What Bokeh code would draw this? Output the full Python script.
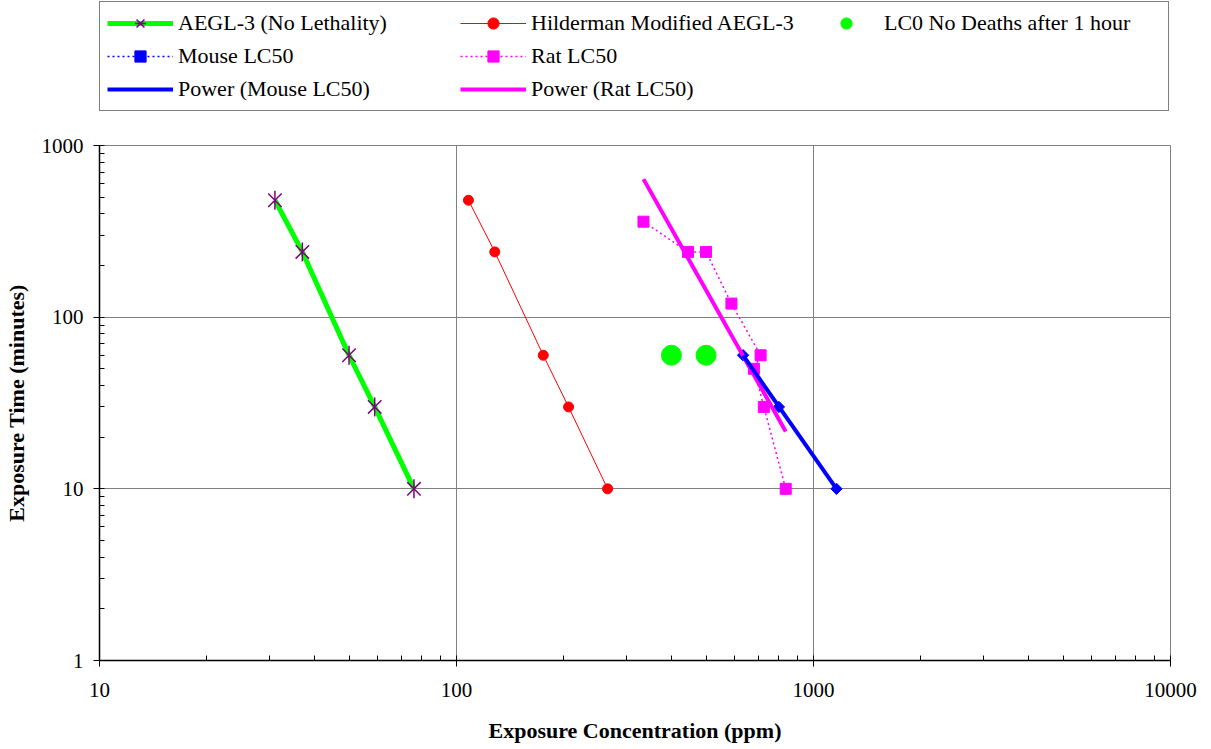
import numpy as np
from bokeh.plotting import figure
from bokeh.layouts import column
from bokeh.models import (Range1d, FixedTicker, CustomJSTickFormatter, Legend, LegendItem,
                          ColumnDataSource)
from bokeh.embed import file_html
from bokeh.resources import INLINE

# Exposure concentration (ppm) vs. exposure time (minutes)
aegl_conc = [31, 37, 50, 59, 76]
aegl_time = [480, 240, 60, 30, 10]

hild_conc = [108, 128, 175, 206, 265]
hild_time = [480, 240, 60, 30, 10]

lc0_conc = [400, 500]
lc0_time = [60, 60]

mouse_conc = [635, 800, 1160]
mouse_time = [60, 30, 10]

rat_conc = [334, 445, 500, 589, 711, 681, 726, 836]
rat_time = [360, 240, 240, 120, 60, 50, 30, 10]

x_ticks = [10, 100, 1000, 10000]
y_ticks = [1, 10, 100, 1000]

FONT = "Liberation Serif"

# Glyph styles, shared by the chart and its legend keys
STYLE = {
    "aegl_line": dict(line_color="#00FF00", line_width=5),
    "aegl_x": dict(marker="x", size=19, line_color="#800080", line_width=1.5),
    "aegl_bar": dict(marker="dash", angle=np.pi / 2, size=19, line_color="#800080",
                     line_width=1.5),
    "hild_line": dict(line_color="#FF0000", line_width=1),
    "hild_pts": dict(marker="circle", size=10, fill_color="#FF0000", line_color="#FF0000"),
    "lc0_pts": dict(marker="circle", size=20, fill_color="#00FF00", line_color="#00FF00"),
    "mouse_line": dict(line_color="#0000FF", line_width=1.5, line_dash="2 3"),
    "mouse_pts": dict(marker="square", angle=np.pi / 4, size=8, fill_color="#0000FF",
                      line_color="#0000FF"),
    "rat_line": dict(line_color="#FF00FF", line_width=1.5, line_dash="2 3"),
    "rat_pts": dict(marker="square", size=11, fill_color="#FF00FF", line_color="#FF00FF"),
    "pm_line": dict(line_color="#0000FF", line_width=4),
    "pr_line": dict(line_color="#FF00FF", line_width=4),
}


def power_fit(conc, time):
    """Least-squares power trend line y = a * x^b, spanning the data's x range."""
    b, a = np.polyfit(np.log10(conc), np.log10(time), 1)
    xs = np.array([min(conc), max(conc)], dtype=float)
    return xs, 10 ** (a + b * np.log10(xs))


def minor_ticks(decades):
    return [d * k for d in decades for k in range(2, 10)]


# ---------------------------------------------------------------- main chart
p = figure(
    width=1211, height=618,
    x_axis_type="log", y_axis_type="log",
    x_range=Range1d(10, 10000), y_range=Range1d(1, 1000),
    output_backend="svg", toolbar_location=None,
    min_border_left=99, min_border_right=41,
    min_border_top=14, min_border_bottom=89,
    x_axis_label="Exposure Concentration (ppm)",
    y_axis_label="Exposure Time (minutes)",
)
p.background_fill_color = "white"
p.border_fill_color = "white"
p.outline_line_color = "#808080"
p.outline_line_width = 1

p.xaxis.ticker = FixedTicker(ticks=x_ticks, minor_ticks=minor_ticks(x_ticks[:-1]))
p.yaxis.ticker = FixedTicker(ticks=y_ticks, minor_ticks=minor_ticks(y_ticks[:-1]))

for ax in (p.xaxis, p.yaxis):
    ax.formatter = CustomJSTickFormatter(code="return tick.toFixed(0);")
    ax.major_label_text_font = FONT
    ax.major_label_text_font_size = "21px"
    ax.major_label_text_color = "black"
    ax.axis_label_text_font = FONT
    ax.axis_label_text_font_style = "bold"
    ax.axis_label_text_font_size = "22px"
    ax.axis_label_text_color = "black"
    ax.axis_line_color = "black"
    ax.axis_line_width = 1.5
    ax.major_tick_line_color = "black"
    ax.minor_tick_line_color = "black"
    ax.major_tick_in = 5
    ax.major_tick_out = 6
    ax.minor_tick_in = 5
    ax.minor_tick_out = 0

p.xaxis.major_label_standoff = 16
p.xaxis.axis_label_standoff = 18
p.yaxis.major_label_standoff = 10
p.yaxis.axis_label_standoff = 10

p.grid.grid_line_color = "#808080"
p.grid.grid_line_width = 1

# AEGL-3: thick green line with purple star markers
p.line(aegl_conc, aegl_time, **STYLE["aegl_line"])
p.scatter(aegl_conc, aegl_time, **STYLE["aegl_x"])
p.scatter(aegl_conc, aegl_time, **STYLE["aegl_bar"])

# Hilderman modified AEGL-3
p.line(hild_conc, hild_time, **STYLE["hild_line"])
p.scatter(hild_conc, hild_time, **STYLE["hild_pts"])

# LC0 (no deaths after 1 hour)
p.scatter(lc0_conc, lc0_time, **STYLE["lc0_pts"])

# Mouse LC50
p.line(mouse_conc, mouse_time, **STYLE["mouse_line"])
p.scatter(mouse_conc, mouse_time, **STYLE["mouse_pts"])

# Rat LC50
p.line(rat_conc, rat_time, **STYLE["rat_line"])
p.scatter(rat_conc, rat_time, **STYLE["rat_pts"])

# Power trend lines
rx, ry = power_fit(rat_conc, rat_time)
p.line(rx, ry, **STYLE["pr_line"])
mx, my = power_fit(mouse_conc, mouse_time)
p.line(mx, my, **STYLE["pm_line"])

# ---------------------------------------------------------------- legend strip
lf = figure(
    width=1211, height=131,
    x_range=Range1d(0, 1), y_range=Range1d(0, 1),
    output_backend="svg", toolbar_location=None,
    x_axis_location=None, y_axis_location=None,
    min_border=0,
)
lf.grid.visible = False
lf.outline_line_color = None
lf.background_fill_color = "white"
lf.border_fill_color = "white"

# key glyphs sit outside the strip's visible range; only their legend samples show
offscreen = ColumnDataSource(data=dict(x=[-5, -4], y=[-5, -4]))


def key(name):
    st = STYLE[name]
    if "marker" in st:
        return lf.scatter("x", "y", source=offscreen, **st)
    return lf.line("x", "y", source=offscreen, **st)


legend = Legend(
    items=[
        LegendItem(label="AEGL-3 (No Lethality)",
                   renderers=[key("aegl_line"), key("aegl_x"), key("aegl_bar")]),
        LegendItem(label="Mouse LC50", renderers=[key("mouse_line"), key("mouse_pts")]),
        LegendItem(label="Power (Mouse LC50)", renderers=[key("pm_line")]),
        LegendItem(label="Hilderman Modified AEGL-3",
                   renderers=[key("hild_line"), key("hild_pts")]),
        LegendItem(label="Rat LC50", renderers=[key("rat_line"), key("rat_pts")]),
        LegendItem(label="Power (Rat LC50)", renderers=[key("pr_line")]),
        LegendItem(label="LC0 No Deaths after 1 hour", renderers=[key("lc0_pts")]),
    ],
    orientation="vertical",
    nrows=3,
    location=(0, 20),
    label_text_font=FONT,
    label_text_font_size="22px",
    label_text_color="black",
    glyph_width=66,
    glyph_height=28,
    label_height=22,
    label_standoff=5,
    label_width=277,
    spacing=5,
    padding=7,
    margin=0,
    border_line_color="black",
    border_line_width=1,
    background_fill_color="white",
    background_fill_alpha=1.0,
)
lf.add_layout(legend, "center")

layout = column(lf, p, spacing=0)
open("out.html", "w").write(file_html(layout, INLINE))
